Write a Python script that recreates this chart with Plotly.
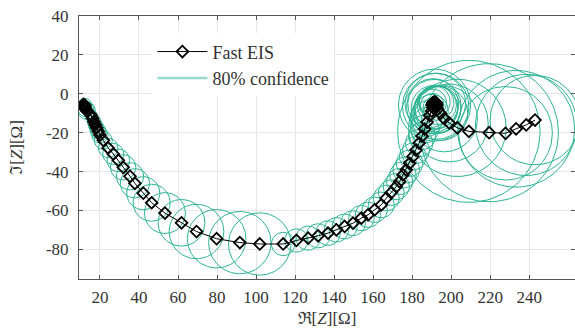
import numpy as np
import plotly.graph_objects as go

# ---------------- data ----------------
re_z = [11.5, 11.8, 12.1, 12.4, 12.2, 12.7, 13.1,
        15.4, 16.2, 16.9, 17.6, 18.3, 19.1,
        20.0, 21.7, 24.2, 26.8, 29.4, 31.9, 35.4, 37.9, 42.2, 46.5, 53.3, 61.8, 69.5, 79.8,
        91.7, 101.9, 113.9, 120.7, 126.7, 131.8, 136.9, 141.2, 145.4, 149.7, 154.0, 157.4,
        160.8, 164.2, 166.8, 169.3, 171.9, 173.6, 175.3, 177.0, 178.7, 180.4, 182.0, 183.6,
        185.1, 186.4, 187.7, 189.0, 190.0,
        190.6, 190.3, 190.6, 191.5, 192.4, 192.7, 192.4, 191.5, 190.8, 191.2, 191.9, 192.1, 191.5,
        193.0, 194.5, 196.5, 199.0, 203.2, 209.1, 219.5, 227.9, 233.3, 238.5, 243.0]
im_z = [-5.4, -6.0, -6.6, -7.2, -5.8, -7.8, -8.6,
        -10.9, -12.6, -14.3, -15.9, -17.5, -19.2,
        -21.2, -23.9, -27.8, -30.9, -34.2, -37.8, -42.4, -46.0, -51.1, -56.0, -61.3, -66.3, -70.8, -74.5,
        -76.5, -77.2, -77.2, -75.4, -74.2, -73.0, -71.6, -69.9, -68.2, -66.5, -63.9, -62.2,
        -59.6, -57.1, -53.6, -50.8, -47.7, -45.1, -41.7, -39.1, -35.7, -32.3, -28.9, -25.3,
        -21.7, -18.1, -14.5, -11.2, -8.8,
        -7.0, -5.8, -4.6, -4.0, -4.6, -5.8, -7.0, -7.6, -5.2, -6.6, -5.0, -6.4, -5.8,
        -8.0, -10.0, -12.8, -15.0, -17.5, -19.3, -20.0, -20.3, -18.0, -16.0, -13.5]
radius = [1.5, 2.0, 2.5, 3.0, 3.5, 4.0, 4.5,
          3.0, 3.2, 3.4, 3.6, 3.8, 4.0,
          4.2, 4.6, 5.0, 5.4, 5.8, 6.5, 7.0, 7.5, 8.5, 9.5, 10.5, 12.0, 14.0, 15.0,
          16.0, 16.0, 6.0, 6.0, 6.2, 6.2, 6.3, 6.3, 6.4, 6.4, 6.5, 6.5,
          6.5, 6.6, 6.6, 6.6, 6.7, 6.7, 6.8, 6.8, 6.8, 6.9, 6.9, 7.0,
          7.0, 7.2, 7.5, 8.0, 8.5,
          5.0, 6.0, 7.0, 8.0, 9.0, 10.0, 11.0, 12.0, 13.0, 14.0, 15.5, 17.0, 18.5,
          12.0, 14.0, 17.0, 20.0, 25.0, 36.5, 35.5, 24.0, 30.0, 26.0, 23.0]

x_ticks = [20, 40, 60, 80, 100, 120, 140, 160, 180, 200, 220, 240]
y_ticks = [-80, -60, -40, -20, 0, 20, 40]
y_tick_text = ["-80", "-60", "-40", "-20", "0", "20", "40"]

x_range = [9.25, 263.5]
y_range = [-95.2, 40]

# ---------------- styles ----------------
TEAL = "rgb(44,180,148)"
TEAL_LEGEND = "rgb(150,220,204)"
AXIS = "#555555"
GRID = "#e6e6e6"
FONT = "'Liberation Serif', 'Times New Roman', 'DejaVu Serif', serif"

# circles: parametric outlines through the data axes
theta = np.linspace(0, 2 * np.pi, 121)
cx, cy = [], []
for xc, yc, r in zip(re_z, im_z, radius):
    cx.extend(list(xc + r * np.cos(theta)) + [None])
    cy.extend(list(yc + r * np.sin(theta)) + [None])

fig = go.Figure()
fig.add_trace(go.Scatter(
    x=cx, y=cy, mode="lines", showlegend=False, hoverinfo="skip",
    line=dict(color=TEAL, width=1),
))
fig.add_trace(go.Scatter(
    x=re_z, y=im_z, mode="lines+markers", name="Fast EIS",
    line=dict(color="black", width=1),
    marker=dict(symbol="diamond-open", size=9, color="black",
                line=dict(color="black", width=1.8)),
))
fig.add_trace(go.Scatter(
    x=[None], y=[None], mode="lines", name="80% confidence",
    line=dict(color=TEAL_LEGEND, width=2.5),
))

axis_common = dict(
    showline=True, linecolor=AXIS, linewidth=1, mirror="ticks",
    ticks="inside", ticklen=4, tickcolor=AXIS, tickwidth=1,
    showgrid=True, gridcolor=GRID, gridwidth=1, zeroline=False,
    tickfont=dict(family=FONT, size=17, color="#333333"),
)

fig.update_xaxes(
    range=x_range, tickvals=x_ticks, ticklabelstandoff=3,
    title=dict(text="ℜ[<i>Z</i>][Ω]", font=dict(family=FONT, size=17, color="#333333"), standoff=5),
    **axis_common,
)
fig.update_yaxes(
    range=y_range, tickvals=y_ticks, ticktext=y_tick_text, ticklabelstandoff=6,
    title=dict(text="ℑ[<i>Z</i>][Ω]", font=dict(family=FONT, size=17, color="#333333"), standoff=18),
    **axis_common,
)

fig.update_layout(
    width=575, height=331,
    margin=dict(l=79, r=0, t=16, b=52),
    plot_bgcolor="white", paper_bgcolor="white",
    font=dict(family=FONT, size=17, color="#333333"),
    legend=dict(x=0.148, y=0.934, xanchor="left", yanchor="top",
                bgcolor="white", borderwidth=0,
                font=dict(family=FONT, size=18, color="#333333"),
                itemwidth=50, tracegroupgap=0),
    showlegend=True,
)

fig.write_html("out.html")
